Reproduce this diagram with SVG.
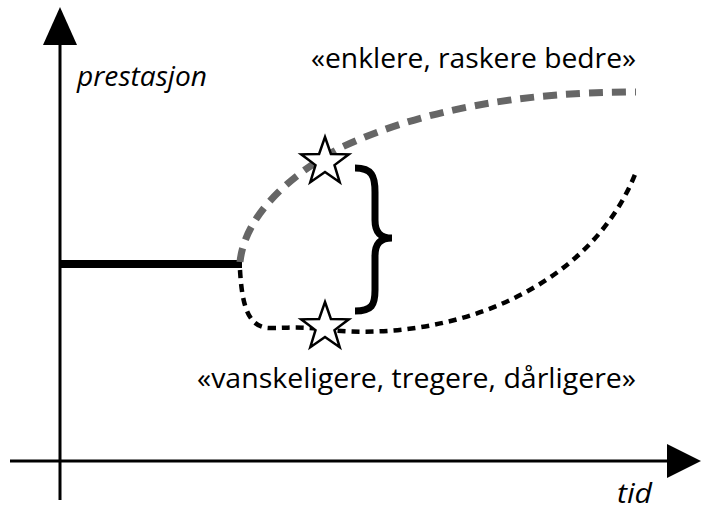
<svg xmlns="http://www.w3.org/2000/svg" width="701" height="510" viewBox="0 0 701 510">
  <style>
    .axis { stroke: #000; stroke-width: 3; fill: none; }
    .head { fill: #000; }
    .label { font-family: "Open Sans", "Liberation Sans", sans-serif; font-size: 27px; fill: #000; }
    .ital { font-style: italic; }
    .star { fill: #fff; stroke: #000; stroke-width: 2.5; stroke-linejoin: miter; }
  </style>
  <defs>
    <polygon id="star" points="0,-25 5.9,-8.1 23.8,-7.7 9.5,3.1 14.7,20.2 0,10 -14.7,20.2 -9.5,3.1 -23.8,-7.7 -5.9,-8.1"/>
  </defs>

  <g id="axes">
    <line class="axis" x1="60" y1="40" x2="60" y2="500"/>
    <polygon class="head" points="60,7 77,45 43,45"/>
    <line class="axis" x1="10" y1="461" x2="670" y2="461"/>
    <polygon class="head" points="701,461 667,444 667,478"/>
  </g>

  <g id="connectors">
    <!-- baseline level before the split -->
    <line x1="61" y1="264" x2="242" y2="264" stroke="#000" stroke-width="8"/>
    <!-- upper branch -->
    <path d="M240,262 C245,215 290,175 340,148 C420,110 520,92 636,92" fill="none" stroke="#666" stroke-width="7" stroke-dasharray="14,9"/>
    <!-- lower branch -->
    <path d="M240,270 C242,305 248,328 270,328 C290,328 300,326 330,330 C450,342 590,290 636,172" fill="none" stroke="#000" stroke-width="4.5" stroke-dasharray="8,6"/>
    <!-- brace between the two branches -->
    <path d="M355,168 C372,168 375,176 375,192 L375,220 C375,232 380,238 392,238 C380,238 375,244 375,256 L375,290 C375,305 372,311 355,311" fill="none" stroke="#000" stroke-width="7"/>
  </g>

  <g id="star-upper"><use href="#star" class="star" x="325" y="162"/></g>
  <g id="star-lower"><use href="#star" class="star" x="325" y="327"/></g>

  <g id="labels">
    <text class="label ital" x="77" y="86" textLength="130" lengthAdjust="spacingAndGlyphs">prestasjon</text>
    <text class="label" x="311" y="68" textLength="325" lengthAdjust="spacingAndGlyphs">«enklere, raskere bedre»</text>
    <text class="label" x="197" y="388" textLength="439" lengthAdjust="spacingAndGlyphs">«vanskeligere, tregere, dårligere»</text>
    <text class="label ital" x="617" y="503" textLength="35" lengthAdjust="spacingAndGlyphs">tid</text>
  </g>
</svg>
